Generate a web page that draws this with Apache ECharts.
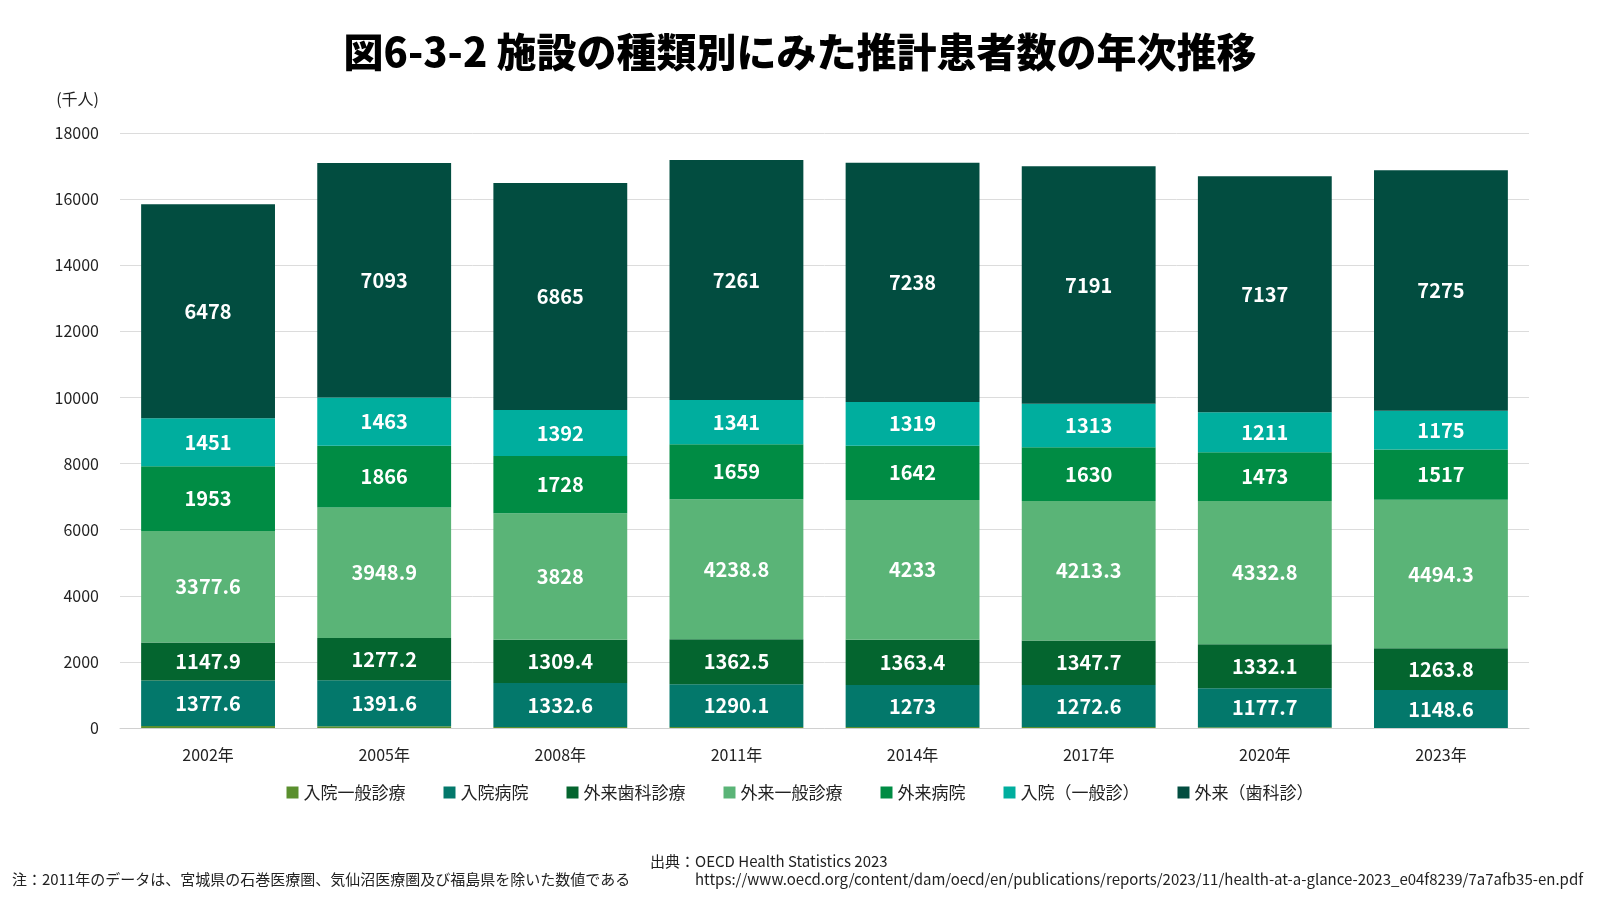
<!DOCTYPE html>
<html>
<head>
<meta charset="utf-8">
<script src="https://cdn.jsdelivr.net/npm/echarts@6/dist/echarts.min.js"></script>
<style>
  html, body { margin: 0; padding: 0; background: #fff; }
  #chart { width: 1600px; height: 900px; }
</style>
</head>
<body>
<div id="chart"></div>
<script>
// 年次
var years = ['2002年', '2005年', '2008年', '2011年', '2014年', '2017年', '2020年', '2023年'];

// 推計患者数（千人）
var nyuinIppan   = [60, 55, 30, 30, 30, 30, 25, 0];
var nyuinByoin   = [1377.6, 1391.6, 1332.6, 1290.1, 1273, 1272.6, 1177.7, 1148.6];
var gairaiShika  = [1147.9, 1277.2, 1309.4, 1362.5, 1363.4, 1347.7, 1332.1, 1263.8];
var gairaiIppan  = [3377.6, 3948.9, 3828, 4238.8, 4233, 4213.3, 4332.8, 4494.3];
var gairaiByoin  = [1953, 1866, 1728, 1659, 1642, 1630, 1473, 1517];
var nyuinIppanS  = [1451, 1463, 1392, 1341, 1319, 1313, 1211, 1175];
var gairaiShikaS = [6478, 7093, 6865, 7261, 7238, 7191, 7137, 7275];

var yTicks = [0, 2000, 4000, 6000, 8000, 10000, 12000, 14000, 16000, 18000];

var FONT = '"Noto Sans CJK JP", "Noto Sans", sans-serif';

function mk(name, data, color, showLabel) {
  return {
    name: name,
    type: 'bar',
    stack: 'total',
    data: data,
    barWidth: '76%',
    itemStyle: { color: color },
    label: {
      show: showLabel,
      position: 'inside',
      color: '#fff',
      fontWeight: 'bold',
      fontSize: 20,
      fontFamily: FONT
    }
  };
}

var myChart = echarts.init(document.getElementById('chart'));
var option = {
  animation: false,
  textStyle: { fontFamily: FONT },
  title: [{
    text: '図6-3-2 施設の種類別にみた推計患者数の年次推移',
    left: 'center',
    top: 27,
    textStyle: { fontSize: 40, fontWeight: 900, color: '#000', fontFamily: FONT }
  }],
  legend: {
    bottom: 94,
    left: 'center',
    itemWidth: 12,
    itemHeight: 12,
    itemGap: 38,
    icon: 'rect',
    textStyle: { fontSize: 17, color: '#222', fontFamily: FONT },
    data: ['入院一般診療', '入院病院', '外来歯科診療', '外来一般診療', '外来病院', '入院（一般診）', '外来（歯科診）']
  },
  grid: { left: 120, right: 71, top: 133, bottom: 172 },
  xAxis: {
    type: 'category',
    data: years,
    axisTick: { show: false },
    axisLine: { lineStyle: { color: '#d0d0d0' } },
    axisLabel: { fontSize: 16, color: '#222', margin: 19 }
  },
  yAxis: {
    type: 'value',
    name: '(千人)',
    nameLocation: 'end',
    nameGap: 26,
    nameTextStyle: { fontSize: 16, color: '#222', align: 'right', padding: [0, 21, 0, 0] },
    min: yTicks[0],
    max: yTicks[yTicks.length - 1],
    interval: 2000,
    axisLine: { show: false },
    axisTick: { show: false },
    axisLabel: { fontSize: 16, color: '#222', margin: 21, formatter: function (v) { return String(v); } },
    splitLine: { lineStyle: { color: '#dcdcdc' } }
  },
  series: [
    mk('入院一般診療', nyuinIppan, '#5a8f2e', false),
    mk('入院病院', nyuinByoin, '#03786b', true),
    mk('外来歯科診療', gairaiShika, '#04652f', true),
    mk('外来一般診療', gairaiIppan, '#5ab477', true),
    mk('外来病院', gairaiByoin, '#008c44', true),
    mk('入院（一般診）', nyuinIppanS, '#00ae9e', true),
    mk('外来（歯科診）', gairaiShikaS, '#024d40', true)
  ],
  graphic: [
    {
      type: 'text', left: 12, top: 872,
      style: { text: '注：2011年のデータは、宮城県の石巻医療圏、気仙沼医療圏及び福島県を除いた数値である', fontSize: 15, fill: '#222', fontFamily: FONT }
    },
    {
      type: 'text', left: 650, top: 854,
      style: { text: '出典：OECD Health Statistics 2023', fontSize: 15, fill: '#222', fontFamily: FONT }
    },
    {
      type: 'text', left: 695, top: 872,
      style: { text: 'https://www.oecd.org/content/dam/oecd/en/publications/reports/2023/11/health-at-a-glance-2023_e04f8239/7a7afb35-en.pdf', fontSize: 15, fill: '#222', fontFamily: FONT }
    }
  ]
};
myChart.setOption(option);
</script>
</body>
</html>
